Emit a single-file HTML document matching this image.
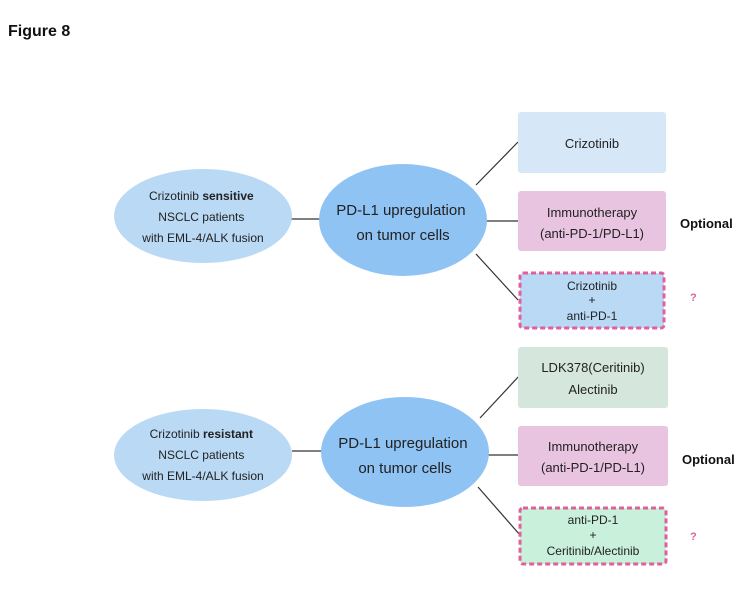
<!DOCTYPE html>
<html><head><meta charset="utf-8"><style>
body{margin:0;background:#fff;}
svg text{font-family:"Liberation Sans",Arial,sans-serif;}
</style></head><body>
<svg width="752" height="592" viewBox="0 0 752 592" xmlns="http://www.w3.org/2000/svg">
<rect width="752" height="592" fill="#fff"/>
<text x="8" y="36" font-size="16" font-weight="bold" fill="#111">Figure 8</text>

<!-- top group -->
<g stroke="#333" stroke-width="1.2">
<line x1="291" y1="219" x2="320" y2="219"/>
<line x1="476" y1="185" x2="518" y2="142"/>
<line x1="486" y1="221" x2="518" y2="221"/>
<line x1="476" y1="254" x2="518" y2="300"/>
</g>
<ellipse cx="203" cy="216" rx="89" ry="47" fill="#b9d9f5"/>
<ellipse cx="403" cy="220" rx="84" ry="56" fill="#8fc3f4"/>
<text text-anchor="middle" font-size="12" fill="#222">
<tspan x="203" y="200">Crizotinib <tspan font-weight="bold">sensitive</tspan></tspan>
<tspan x="203" y="221">NSCLC patients</tspan>
<tspan x="203" y="242">with EML-4/ALK fusion</tspan></text>
<text text-anchor="middle" font-size="15" fill="#222">
<tspan x="403" y="215">PD-L1 upregulation</tspan>
<tspan x="403" y="240">on tumor cells</tspan></text>
<rect x="518" y="112" width="148" height="61" rx="3" fill="#d6e8f8"/>
<text x="592" y="148" text-anchor="middle" font-size="13" fill="#222">Crizotinib</text>
<rect x="518" y="191" width="148" height="60" rx="3" fill="#e9c4e1"/>
<text text-anchor="middle" font-size="13" fill="#222"><tspan x="592" y="217">Immunotherapy</tspan><tspan x="592" y="238">(anti-PD-1/PD-L1)</tspan></text>
<rect x="520" y="273" width="144" height="55" rx="3" fill="#b9d9f5" stroke="#e0609d" stroke-width="3" stroke-dasharray="5,3"/>
<text text-anchor="middle" font-size="12" fill="#222"><tspan x="592" y="290">Crizotinib</tspan><tspan x="592" y="304">+</tspan><tspan x="592" y="320">anti-PD-1</tspan></text>
<text x="680" y="228" font-size="13" font-weight="bold" fill="#111">Optional</text>
<text x="690" y="301" font-size="11" font-weight="bold" fill="#e0609d">?</text>

<!-- bottom group -->
<g stroke="#333" stroke-width="1.2">
<line x1="292" y1="451" x2="322" y2="451"/>
<line x1="480" y1="418" x2="520" y2="375"/>
<line x1="488" y1="455" x2="518" y2="455"/>
<line x1="478" y1="487" x2="520" y2="535"/>
</g>
<ellipse cx="203" cy="455" rx="89" ry="46" fill="#b9d9f5"/>
<ellipse cx="405" cy="452" rx="84" ry="55" fill="#8fc3f4"/>
<text text-anchor="middle" font-size="12" fill="#222">
<tspan x="203" y="438">Crizotinib <tspan font-weight="bold">resistant</tspan></tspan>
<tspan x="203" y="459">NSCLC patients</tspan>
<tspan x="203" y="480">with EML-4/ALK fusion</tspan></text>
<text text-anchor="middle" font-size="15" fill="#222">
<tspan x="405" y="448">PD-L1 upregulation</tspan>
<tspan x="405" y="473">on tumor cells</tspan></text>
<rect x="518" y="347" width="150" height="61" rx="3" fill="#d5e6dd"/>
<text text-anchor="middle" font-size="13" fill="#222"><tspan x="593" y="372">LDK378(Ceritinib)</tspan><tspan x="593" y="394">Alectinib</tspan></text>
<rect x="518" y="426" width="150" height="60" rx="3" fill="#e9c4e1"/>
<text text-anchor="middle" font-size="13" fill="#222"><tspan x="593" y="451">Immunotherapy</tspan><tspan x="593" y="472">(anti-PD-1/PD-L1)</tspan></text>
<rect x="520" y="508" width="146" height="56" rx="3" fill="#c8f0da" stroke="#e0609d" stroke-width="3" stroke-dasharray="5,3"/>
<text text-anchor="middle" font-size="12" fill="#222"><tspan x="593" y="524">anti-PD-1</tspan><tspan x="593" y="539">+</tspan><tspan x="593" y="555">Ceritinib/Alectinib</tspan></text>
<text x="682" y="464" font-size="13" font-weight="bold" fill="#111">Optional</text>
<text x="690" y="540" font-size="11" font-weight="bold" fill="#e0609d">?</text>
</svg>
</body></html>
